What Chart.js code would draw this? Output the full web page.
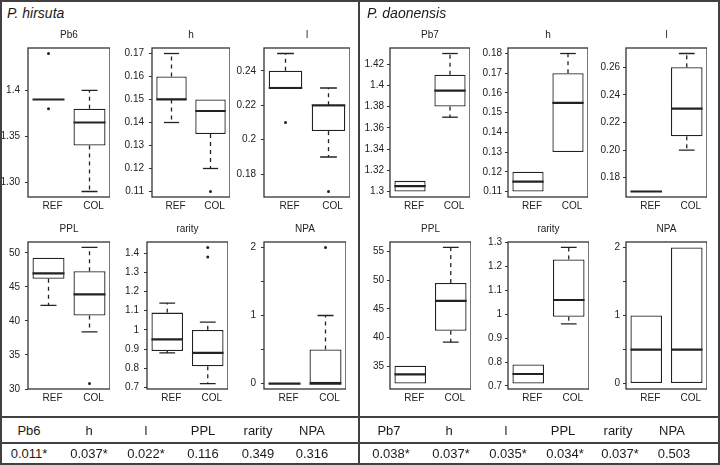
<!DOCTYPE html>
<html>
<head>
<meta charset="utf-8">
<script src="https://cdn.jsdelivr.net/npm/chart.js@4"></script>
<style>
body { margin: 0; background: #fff; font-family: "Liberation Sans", Arial, sans-serif; }
#fig { position: relative; width: 720px; height: 465px; overflow: hidden; background: #fff; }
canvas { position: absolute; }
.ln { position: absolute; background: #404040; }
.lbl { position: absolute; color: #1a1a1a; font-size: 13px; line-height: 14px; white-space: nowrap; transform: translateX(-50%); }
.sp { position: absolute; font-style: italic; font-size: 14px; line-height: 14px; color: #1a1a1a; }
</style>
</head>
<body>
<div id="fig"></div>
<script>
const groups = ["REF", "COL"];

/* ---------- P. hirsuta ---------- */
const hirsutaVars = ["Pb6", "h", "l", "PPL", "rarity", "NPA"];
// [lower whisker, q1, median, q3, upper whisker]
const hirsutaRef = [
    [1.39, 1.39, 1.39, 1.39, 1.39],
    [0.14, 0.15, 0.15, 0.16, 0.17],
    [0.23, 0.23, 0.23, 0.24, 0.25],
    [42.3, 46.2, 47.0, 49.3, 49.3],
    [0.88, 0.89, 0.95, 1.09, 1.14],
    [0, 0, 0, 0, 0]
];
const hirsutaCol = [
    [1.29, 1.34, 1.365, 1.38, 1.40],
    [0.12, 0.135, 0.145, 0.15, 0.15],
    [0.19, 0.205, 0.22, 0.22, 0.23],
    [38.4, 40.8, 43.9, 47.3, 50.8],
    [0.72, 0.81, 0.88, 1.00, 1.04],
    [0, 0, 0, 0.5, 1]
];
const hirsutaRefOut = [[1.38, 1.44], [], [0.21], [], [], []];
const hirsutaColOut = [[], [0.11], [0.17], [30.8], [1.38, 1.43], [2]];
const hirsutaTicks = [
    [1.30, 1.35, 1.40],
    [0.11, 0.12, 0.13, 0.14, 0.15, 0.16, 0.17],
    [0.18, 0.20, 0.22, 0.24],
    [30, 35, 40, 45, 50],
    [0.7, 0.8, 0.9, 1.0, 1.1, 1.2, 1.3, 1.4],
    [0, 0.5, 1, 1.5, 2]
];
const hirsutaTickLabels = [
    ["1.30", "1.35", "1.4"],
    ["0.11", "0.12", "0.13", "0.14", "0.15", "0.16", "0.17"],
    ["0.18", "0.2", "0.22", "0.24"],
    ["30", "35", "40", "45", "50"],
    ["0.7", "0.8", "0.9", "1", "1.1", "1.2", "1.3", "1.4"],
    ["0", "", "1", "", "2"]
];
const hirsutaP = ["0.011*", "0.037*", "0.022*", "0.116", "0.349", "0.316"];

/* ---------- P. daonensis ---------- */
const daonensisVars = ["Pb7", "h", "l", "PPL", "rarity", "NPA"];
const daonensisRef = [
    [1.30, 1.30, 1.305, 1.31, 1.31],
    [0.11, 0.11, 0.115, 0.12, 0.12],
    [0.17, 0.17, 0.17, 0.17, 0.17],
    [32.0, 32.0, 33.6, 35.1, 35.1],
    [0.71, 0.71, 0.75, 0.79, 0.79],
    [0, 0, 0.5, 1, 1]
];
const daonensisCol = [
    [1.37, 1.38, 1.395, 1.41, 1.43],
    [0.13, 0.13, 0.155, 0.17, 0.18],
    [0.20, 0.21, 0.23, 0.26, 0.27],
    [39.2, 41.2, 46.4, 49.5, 55.7],
    [0.96, 0.99, 1.06, 1.23, 1.28],
    [0, 0, 0.5, 2, 2]
];
const daonensisRefOut = [[], [], [], [], [], []];
const daonensisColOut = [[], [], [], [], [], []];
const daonensisTicks = [
    [1.30, 1.32, 1.34, 1.36, 1.38, 1.40, 1.42],
    [0.11, 0.12, 0.13, 0.14, 0.15, 0.16, 0.17, 0.18],
    [0.18, 0.20, 0.22, 0.24, 0.26],
    [35, 40, 45, 50, 55],
    [0.7, 0.8, 0.9, 1.0, 1.1, 1.2, 1.3],
    [0, 0.5, 1, 1.5, 2]
];
const daonensisTickLabels = [
    ["1.3", "1.32", "1.34", "1.36", "1.38", "1.4", "1.42"],
    ["0.11", "0.12", "0.13", "0.14", "0.15", "0.16", "0.17", "0.18"],
    ["0.18", "0.20", "0.22", "0.24", "0.26"],
    ["35", "40", "45", "50", "55"],
    ["0.7", "0.8", "0.9", "1", "1.1", "1.2", "1.3"],
    ["0", "", "1", "", "2"]
];
const daonensisP = ["0.038*", "0.037*", "0.035*", "0.034*", "0.037*", "0.503"];

/* ---------- layout (plot boxes in page pixels) ---------- */
const rowY = [[48, 197], [242, 389]];
const hirsutaX = [[28, 110], [152, 230], [264, 350], [28, 110], [147, 228], [264, 346]];
const daonensisX = [[390, 470], [508, 588], [626, 707], [390, 471], [508, 589], [626, 707]];
const FONT = '"Liberation Sans", Arial, sans-serif';
const INK = "#222";

const fig = document.getElementById("fig");

// frame + title plugin
const framePlugin = {
    id: "frame",
    afterDraw(chart, args, opts) {
        const { ctx, chartArea: a } = chart;
        ctx.save();
        ctx.strokeStyle = "#333";
        ctx.lineWidth = 1.3;
        ctx.strokeRect(a.left, a.top, a.right - a.left, a.bottom - a.top);
        ctx.fillStyle = INK;
        ctx.font = "10px " + FONT;
        ctx.textAlign = "center";
        ctx.textBaseline = "middle";
        ctx.fillText(opts.text, (a.left + a.right) / 2, a.top - 12.5);
        ctx.restore();
    }
};

function boxChart(name, xr, yr, ref, col, refOut, colOut, ticks, tickLabels, yPad) {
    const axisW = 40, top = yr[0] - 22, left = xr[0] - axisW;
    const cv = document.createElement("canvas");
    cv.width = xr[1] - left;
    cv.height = yr[1] - top + 20;
    cv.style.left = left + "px";
    cv.style.top = top + "px";
    fig.appendChild(cv);

    const all = ref.concat(col, refOut, colOut);
    const lo = Math.min(...all), hi = Math.max(...all);
    const ext = (hi - lo) * 0.04;

    const boxW = (xr[1] - xr[0]) / 2 * 0.78;
    const datasets = [];
    // medians
    datasets.push({
        type: "line", showLine: false,
        data: [{ x: "REF", y: ref[2] }, { x: "COL", y: col[2] }],
        pointStyle: "line", pointRadius: boxW / 2, pointBorderWidth: 2.2,
        pointBorderColor: INK, order: 0
    });
    [ref, col].forEach((s, i) => {
        const g = groups[i];
        const caps = [];
        if (s[0] < s[1]) {
            caps.push({ x: g, y: s[0] });
            datasets.push({ type: "line", data: [{ x: g, y: s[1] }, { x: g, y: s[0] }],
                borderColor: INK, borderWidth: 1.3, borderDash: [4, 4], pointRadius: 0, order: 1 });
        }
        if (s[4] > s[3]) {
            caps.push({ x: g, y: s[4] });
            datasets.push({ type: "line", data: [{ x: g, y: s[3] }, { x: g, y: s[4] }],
                borderColor: INK, borderWidth: 1.3, borderDash: [4, 4], pointRadius: 0, order: 1 });
        }
        if (caps.length) {
            datasets.push({ type: "line", showLine: false, data: caps,
                pointStyle: "line", pointRadius: boxW / 4, pointBorderWidth: 1.3,
                pointBorderColor: INK, order: 1 });
        }
    });
    // outliers
    const outs = refOut.map(v => ({ x: "REF", y: v })).concat(colOut.map(v => ({ x: "COL", y: v })));
    if (outs.length) {
        datasets.push({ type: "line", showLine: false, data: outs,
            pointStyle: "circle", pointRadius: 1.5, pointBorderWidth: 0,
            pointBackgroundColor: INK, order: 1 });
    }
    // boxes
    datasets.push({
        type: "bar",
        data: [[ref[1], ref[3]], [col[1], col[3]]],
        backgroundColor: "#fff", borderColor: INK, borderWidth: 1.3,
        borderSkipped: false, barPercentage: 0.78, categoryPercentage: 1, order: 10
    });

    new Chart(cv.getContext("2d"), {
        type: "bar",
        data: { labels: groups, datasets: datasets },
        options: {
            responsive: false,
            animation: false,
            devicePixelRatio: 1,
            layout: { autoPadding: false, padding: { top: 22, right: 0, left: 0, bottom: 0 } },
            plugins: { legend: { display: false }, tooltip: { enabled: false }, frame: { text: name } },
            scales: {
                x: {
                    grid: { display: false, drawTicks: false },
                    border: { display: false },
                    ticks: { color: INK, font: { size: 10, family: FONT }, padding: 3, labelOffset: 4 },
                    afterFit: s => { s.height = 20; }
                },
                y: {
                    min: lo - ext, max: hi + ext,
                    grid: { display: true, drawOnChartArea: false, drawTicks: true, tickLength: 3, color: "#333" },
                    border: { display: false },
                    ticks: {
                        autoSkip: false, color: INK, font: { size: 10, family: FONT }, padding: yPad,
                        callback: (v, i) => tickLabels[i]
                    },
                    afterBuildTicks: s => { s.ticks = ticks.map(v => ({ value: v })); },
                    afterFit: s => { s.width = axisW; }
                }
            }
        },
        plugins: [framePlugin]
    });
}

hirsutaVars.forEach((v, i) => {
    boxChart(v, hirsutaX[i], rowY[Math.floor(i / 3)], hirsutaRef[i], hirsutaCol[i],
        hirsutaRefOut[i], hirsutaColOut[i], hirsutaTicks[i], hirsutaTickLabels[i], 5);
});
daonensisVars.forEach((v, i) => {
    boxChart(v, daonensisX[i], rowY[Math.floor(i / 3)], daonensisRef[i], daonensisCol[i],
        daonensisRefOut[i], daonensisColOut[i], daonensisTicks[i], daonensisTickLabels[i], 3);
});

/* ---------- frame lines ---------- */
[[0, 0, 720, 2], [0, 0, 2, 465], [718, 0, 2, 465], [0, 463, 720, 2],
 [358, 0, 2, 465], [0, 416, 720, 2], [0, 442, 720, 2]].forEach(r => {
    const d = document.createElement("div");
    d.className = "ln";
    d.style.left = r[0] + "px"; d.style.top = r[1] + "px";
    d.style.width = r[2] + "px"; d.style.height = r[3] + "px";
    fig.appendChild(d);
});

/* ---------- species titles + table ---------- */
function addText(cls, txt, x, y) {
    const d = document.createElement("div");
    d.className = cls;
    d.textContent = txt;
    d.style.left = x + "px";
    d.style.top = y + "px";
    fig.appendChild(d);
}
addText("sp", "P. hirsuta", 7, 6);
addText("sp", "P. daonensis", 367, 6);

const colX = [29, 89, 146, 203, 258, 312];
hirsutaVars.forEach((v, i) => {
    addText("lbl", v, colX[i], 424);
    addText("lbl", hirsutaP[i], colX[i], 447);
});
daonensisVars.forEach((v, i) => {
    addText("lbl", v, 360 + colX[i], 424);
    addText("lbl", daonensisP[i], 360 + colX[i] + 2, 447);
});
</script>
</body>
</html>
